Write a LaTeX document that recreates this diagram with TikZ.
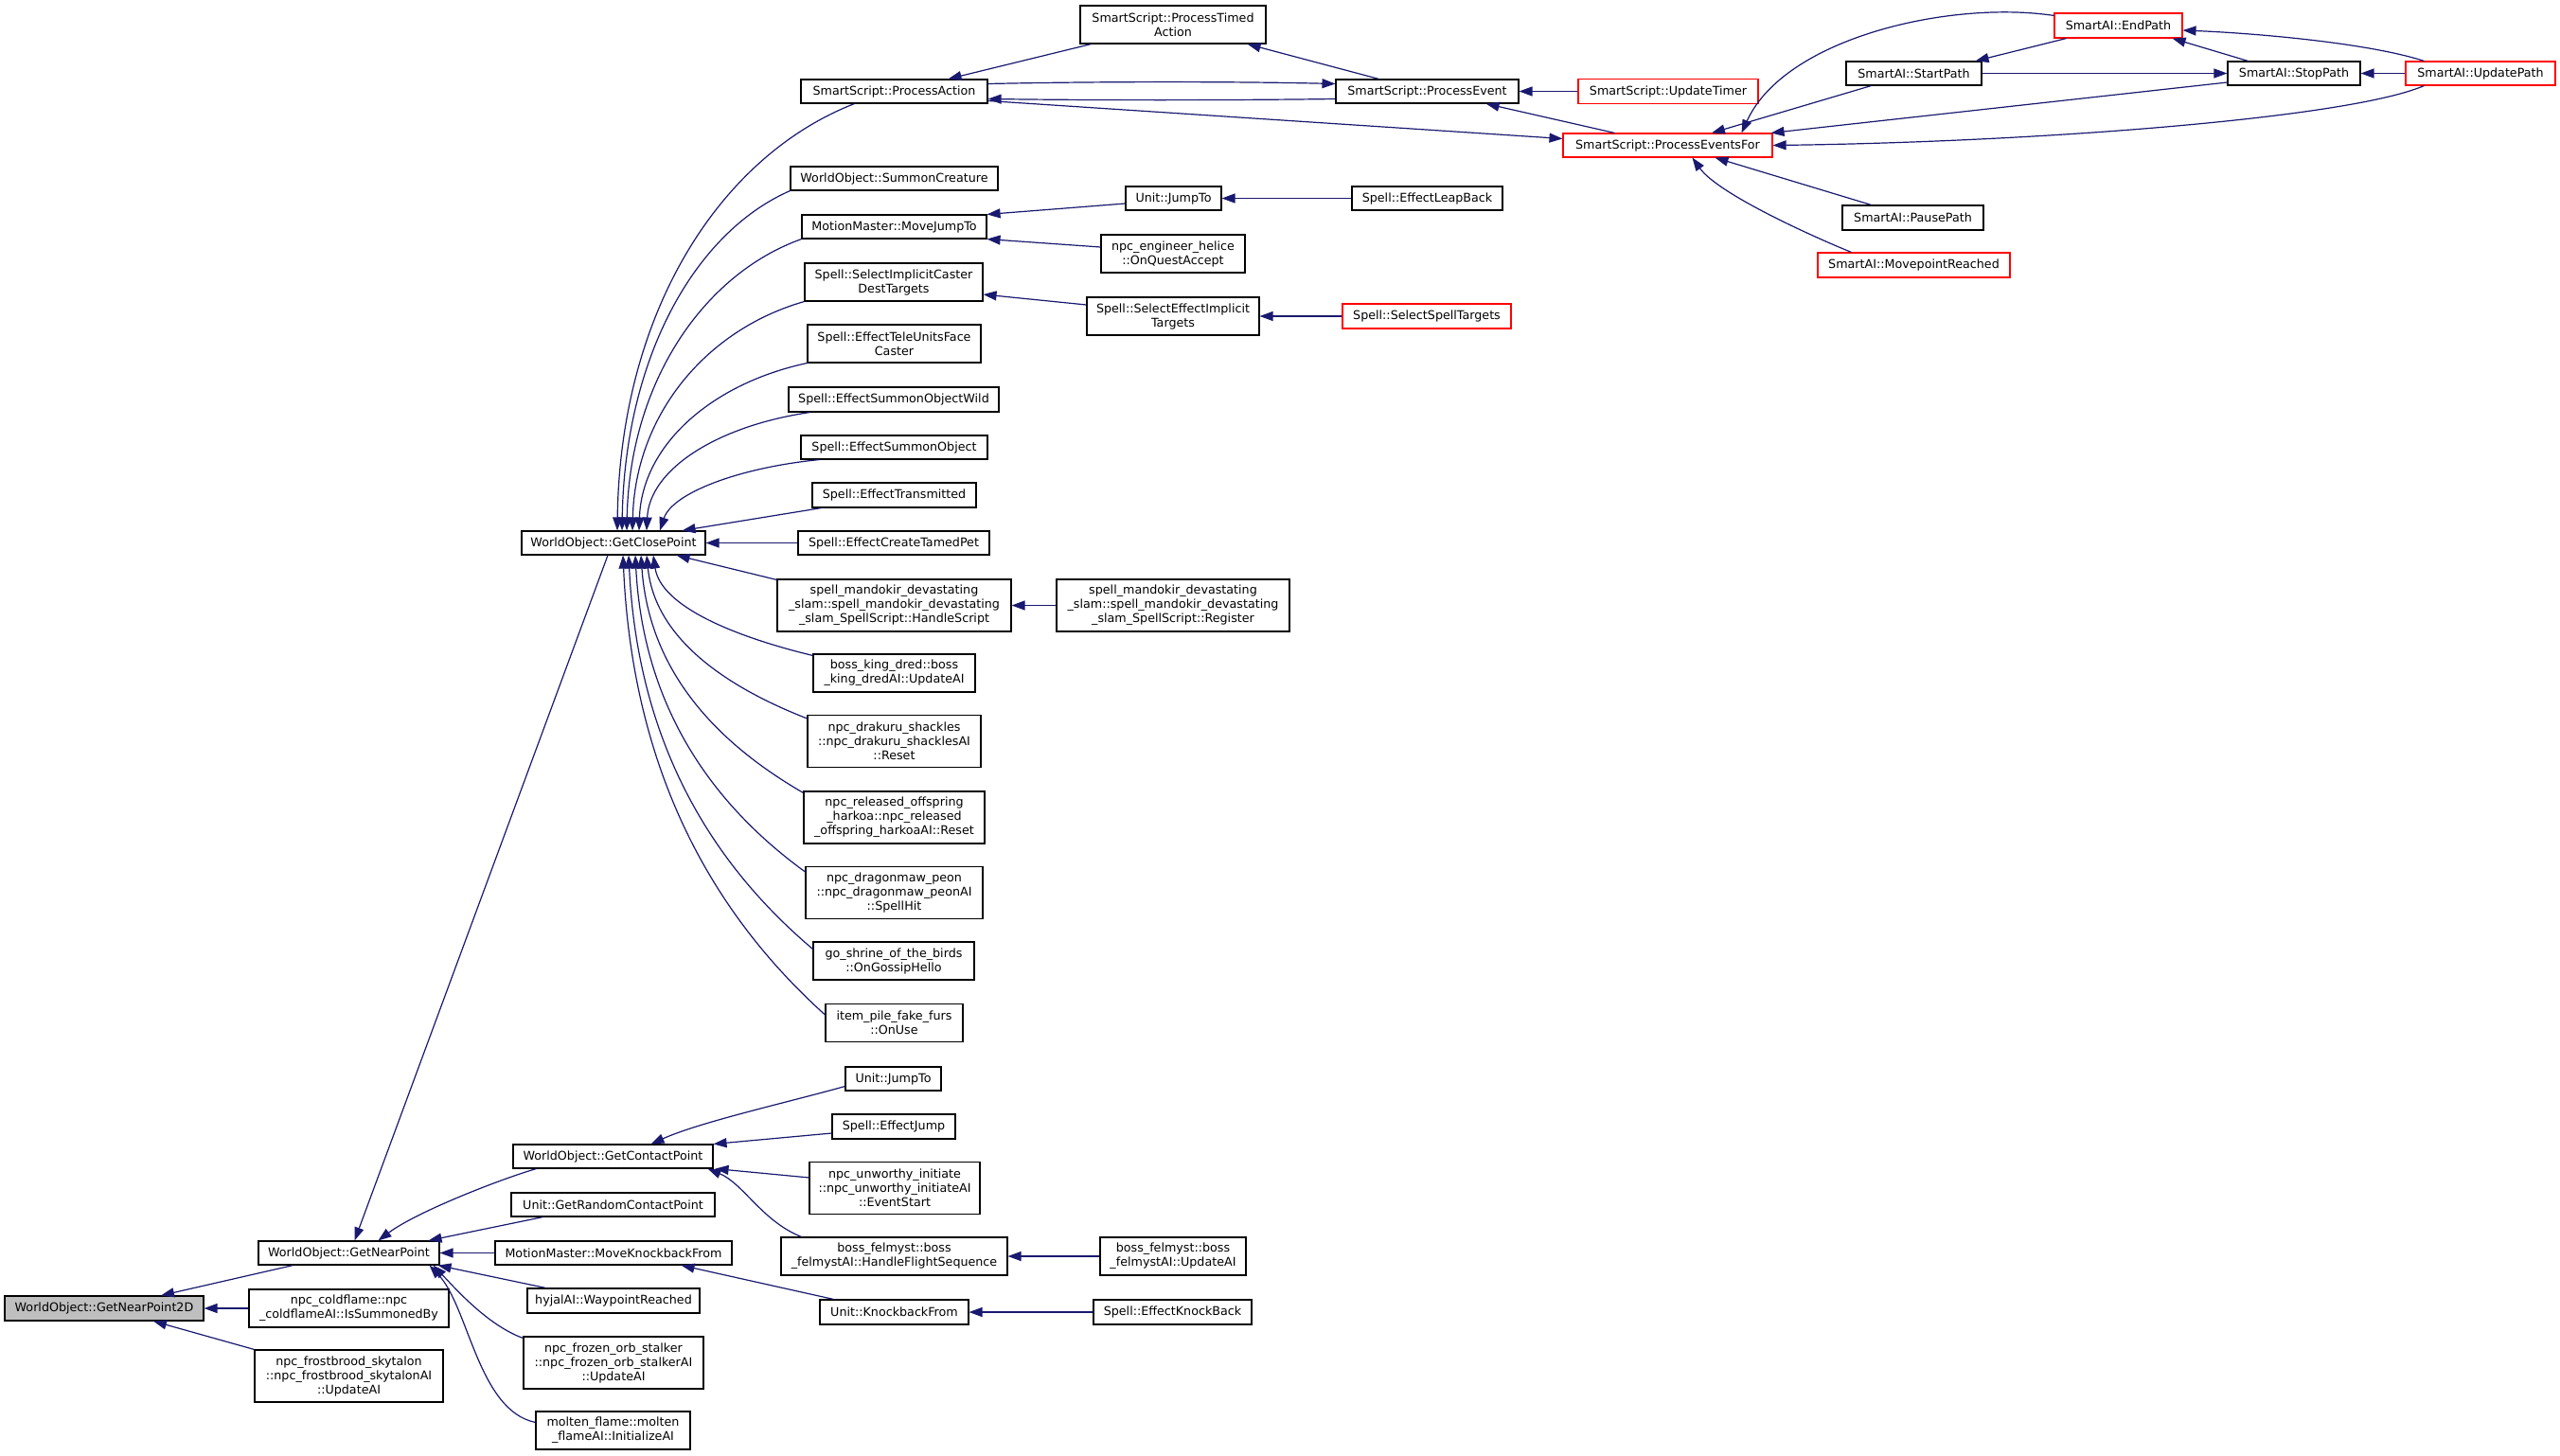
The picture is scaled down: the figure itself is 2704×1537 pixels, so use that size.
\documentclass[tikz,border=0pt]{standalone}
\usepackage{fontspec}
\setmainfont{DejaVu Sans}
\usetikzlibrary{arrows.meta}
\definecolor{edgeblue}{HTML}{191970}
\definecolor{boxgray}{HTML}{BFBFBF}
\begin{document}
\begin{tikzpicture}[x=1pt,y=-1pt,
  fn/.style={draw=black, line width=1.1pt, rectangle, inner sep=0pt, align=center, font=\fontsize{12.7}{15}\selectfont},
  rn/.style={fn, draw=red},
  sz/.style 2 args={minimum width=#1pt, minimum height=#2pt},
  e/.style={draw=edgeblue, line width=1.2pt, -{Triangle[length=14pt,width=10pt]}}]
\fill[white] (0,0) rectangle (2704,1537);
\useasboundingbox (0,0) rectangle (2704,1537);
% column 0-2
\node[fn, fill=boxgray, sz={210}{26}] (n2d) at (110,1382) {WorldObject::GetNearPoint2D};
\node[fn, sz={191}{25}] (ngnp) at (368.5,1323.5) {WorldObject::GetNearPoint};
\node[fn, sz={211}{40}] (ncold) at (368.5,1382) {npc\_coldflame::npc\\\_coldflameAI::IsSummonedBy};
\node[fn, sz={199}{55}] (nfrost) at (368.5,1453.5) {npc\_frostbrood\_skytalon\\::npc\_frostbrood\_skytalonAI\\::UpdateAI};
\node[fn, sz={194}{25}] (nclose) at (648,573.5) {WorldObject::GetClosePoint};
\node[fn, sz={211}{25}] (ncontact) at (647.5,1221.5) {WorldObject::GetContactPoint};
\node[fn, sz={215}{25}] (nrand) at (647.5,1272.5) {Unit::GetRandomContactPoint};
\node[fn, sz={250}{25}] (nmkb) at (648,1323.5) {MotionMaster::MoveKnockbackFrom};
\node[fn, sz={182}{26}] (nhyjal) at (648,1374) {hyjalAI::WaypointReached};
\node[fn, sz={190}{55}] (nfrozen) at (648,1439.5) {npc\_frozen\_orb\_stalker\\::npc\_frozen\_orb\_stalkerAI\\::UpdateAI};
\node[fn, sz={163}{40}] (nmolten) at (647.5,1511) {molten\_flame::molten\\\_flameAI::InitializeAI};
% column 3
\node[fn, sz={197}{25}] (npa) at (944.5,96.5) {SmartScript::ProcessAction};
\node[fn, sz={219}{25}] (nsumm) at (944.5,188.5) {WorldObject::SummonCreature};
\node[fn, sz={195}{25}] (nmjt) at (944.5,239.5) {MotionMaster::MoveJumpTo};
\node[fn, sz={188}{40}] (nsicd) at (944,298) {Spell::SelectImplicitCaster\\DestTargets};
\node[fn, sz={183}{40}] (ntele) at (944.5,363) {Spell::EffectTeleUnitsFace\\Caster};
\node[fn, sz={222}{26}] (nwild) at (944,422) {Spell::EffectSummonObjectWild};
\node[fn, sz={197}{25}] (nsobj) at (944.5,472.5) {Spell::EffectSummonObject};
\node[fn, sz={173}{26}] (ntrans) at (944.5,523) {Spell::EffectTransmitted};
\node[fn, sz={202}{25}] (ntamed) at (944,573.5) {Spell::EffectCreateTamedPet};
\node[fn, sz={247}{55}] (nmandh) at (944.5,639.5) {spell\_mandokir\_devastating\\\_slam::spell\_mandokir\_devastating\\\_slam\_SpellScript::HandleScript};
\node[fn, sz={171}{40}] (ndred) at (944.5,711) {boss\_king\_dred::boss\\\_king\_dredAI::UpdateAI};
\node[fn, sz={183}{55}] (ndrak) at (944.5,783) {npc\_drakuru\_shackles\\::npc\_drakuru\_shacklesAI\\::Reset};
\node[fn, sz={191}{55}] (nrel) at (944.5,863.5) {npc\_released\_offspring\\\_harkoa::npc\_released\\\_offspring\_harkoaAI::Reset};
\node[fn, sz={187}{55}] (ndrag) at (944.5,943) {npc\_dragonmaw\_peon\\::npc\_dragonmaw\_peonAI\\::SpellHit};
\node[fn, sz={170}{40}] (nshrine) at (944,1015) {go\_shrine\_of\_the\_birds\\::OnGossipHello};
\node[fn, sz={145}{40}] (nfurs) at (944.5,1080.5) {item\_pile\_fake\_furs\\::OnUse};
\node[fn, sz={101}{25}] (njump2) at (943.5,1139.5) {Unit::JumpTo};
\node[fn, sz={130}{26}] (neffjump) at (944,1190) {Spell::EffectJump};
\node[fn, sz={180}{55}] (nunw) at (945,1255) {npc\_unworthy\_initiate\\::npc\_unworthy\_initiateAI\\::EventStart};
\node[fn, sz={239}{40}] (nfelh) at (944.5,1327) {boss\_felmyst::boss\\\_felmystAI::HandleFlightSequence};
\node[fn, sz={157}{26}] (nkbf) at (944.5,1386) {Unit::KnockbackFrom};
% column 4
\node[fn, sz={196}{40}] (nta) at (1239,26) {SmartScript::ProcessTimed\\Action};
\node[fn, sz={101}{25}] (njump1) at (1239.5,209.5) {Unit::JumpTo};
\node[fn, sz={152}{40}] (nhelice) at (1239,268) {npc\_engineer\_helice\\::OnQuestAccept};
\node[fn, sz={182}{40}] (nseit) at (1239,334) {Spell::SelectEffectImplicit\\Targets};
\node[fn, sz={246}{55}] (nmandr) at (1239,639.5) {spell\_mandokir\_devastating\\\_slam::spell\_mandokir\_devastating\\\_slam\_SpellScript::Register};
\node[fn, sz={154}{40}] (nfelu) at (1239,1327) {boss\_felmyst::boss\\\_felmystAI::UpdateAI};
\node[fn, sz={167}{26}] (nekb) at (1238.5,1386) {Spell::EffectKnockBack};
% column 5-6
\node[fn, sz={193}{25}] (npe) at (1507.5,96.5) {SmartScript::ProcessEvent};
\node[fn, sz={159}{25}] (nleap) at (1507.5,209.5) {Spell::EffectLeapBack};
\node[rn, sz={178}{26}] (nsst) at (1507,334) {Spell::SelectSpellTargets};
\node[rn, sz={190}{26}] (ntimer) at (1762,96.5) {SmartScript::UpdateTimer};
\node[rn, sz={221}{25}] (npef) at (1761.5,153.5) {SmartScript::ProcessEventsFor};
% SmartAI
\node[rn, sz={135}{26}] (nendp) at (2237.5,27) {SmartAI::EndPath};
\node[fn, sz={143}{25}] (nstart) at (2021.5,77.5) {SmartAI::StartPath};
\node[fn, sz={149}{26}] (npause) at (2020.5,230) {SmartAI::PausePath};
\node[rn, sz={203}{26}] (nmove) at (2021.5,280) {SmartAI::MovepointReached};
\node[fn, sz={140}{25}] (nstop) at (2423,77.5) {SmartAI::StopPath};
\node[rn, sz={158}{25}] (nupd) at (2620,77.5) {SmartAI::UpdatePath};

% edges into GetNearPoint2D
\draw[e] ([xshift=37pt]ngnp.south west) -- ([xshift=60pt]n2d.north);
\draw[e] (ncold.west) -- (n2d.west -| n2d.east);
\draw[e] (nfrost.north west) -- ([xshift=52pt]n2d.south);
% edges into GetNearPoint
\draw[e] ([xshift=-6pt]nclose.south) -- ([xshift=6pt]ngnp.north);
\draw[e] ([xshift=25pt]ncontact.south west) .. controls (530,1245) and (440,1280) .. ([xshift=31pt]ngnp.north);
\draw[e] ([xshift=34pt]nrand.south west) -- ([xshift=-12pt]ngnp.north east);
\draw[e] (nmkb.west) -- (ngnp.east);
\draw[e] ([xshift=20pt]nhyjal.north west) -- ([xshift=-2pt]ngnp.south east);
\draw[e] ([yshift=-2pt]nfrozen.north west) .. controls (515,1400) and (480,1360) .. ([xshift=-7pt]ngnp.south east);
\draw[e] ([yshift=-12pt]nmolten.north west) .. controls (505,1490) and (495,1380) .. ([xshift=-11pt]ngnp.south east);
% edges into GetClosePoint (upper)
\draw[e] ([xshift=57pt]npa.south west) .. controls (760,165) and (655,330) .. ([xshift=4pt]nclose.north);
\draw[e] (nsumm.south west) .. controls (733,246) and (660,379) .. ([xshift=9pt]nclose.north);
\draw[e] (nmjt.south west) .. controls (742,290) and (665,405) .. ([xshift=14pt]nclose.north);
\draw[e] (nsicd.south west) .. controls (746,348) and (671,438) .. ([xshift=20pt]nclose.north);
\draw[e] (ntele.south west) .. controls (752,405) and (678,470) .. ([xshift=27pt]nclose.north);
\draw[e] ([xshift=23pt]nwild.south west) .. controls (757,450) and (686,496) .. ([xshift=35pt]nclose.north);
\draw[e] ([xshift=20pt]nsobj.south west) .. controls (780,494) and (710,521) .. ([xshift=49pt]nclose.north);
\draw[e] ([xshift=10pt]ntrans.south west) -- ([xshift=-25pt]nclose.north east);
\draw[e] (ntamed.west) -- (nclose.east);
% edges into GetClosePoint (lower)
\draw[e] ([yshift=-1pt]nmandh.north west) -- ([xshift=-31pt]nclose.south east);
\draw[e] ([yshift=-2pt]ndred.north west) .. controls (774,672) and (698,640) .. ([xshift=42pt]nclose.south);
\draw[e] ([yshift=-4pt]ndrak.north west) .. controls (768,726) and (692,675) .. ([xshift=35pt]nclose.south);
\draw[e] ([yshift=-2pt]nrel.north west) .. controls (763,788) and (686,714) .. ([xshift=29pt]nclose.south);
\draw[e] ([yshift=-6pt]ndrag.north west) .. controls (761,856) and (680,756) .. ([xshift=23pt]nclose.south);
\draw[e] ([yshift=-8pt]nshrine.north west) .. controls (761,920) and (674,796) .. ([xshift=16pt]nclose.south);
\draw[e] ([yshift=-12pt]nfurs.north west) .. controls (765,976) and (669,831) .. ([xshift=10pt]nclose.south);
% GetContactPoint
\draw[e] ([yshift=-8pt]njump2.west) .. controls (830,1165) and (740,1185) .. ([xshift=40pt]ncontact.north);
\draw[e] ([yshift=-7pt]neffjump.west) -- (ncontact.north east);
\draw[e] ([yshift=-17pt]nunw.north west) -- ([xshift=2pt]ncontact.south east);
\draw[e] ([xshift=22pt]nfelh.north west) .. controls (805,1290) and (785,1250) .. ([xshift=-6pt]ncontact.south east);
\draw[e] (nfelu.west) -- (nfelh.east);
% MoveKnockbackFrom
\draw[e] ([xshift=15pt]nkbf.north west) -- ([xshift=-54pt]nmkb.south east);
\draw[e] (nekb.west) -- (nkbf.east);
% MoveJumpTo
\draw[e] ([yshift=-5.5pt]njump1.west) -- (nmjt.north east);
\draw[e] ([yshift=7pt]nhelice.west) -- (nmjt.south east);
\draw[e] (nleap.west) -- (njump1.east);
% SelectImplicitCasterDestTargets
\draw[e] ([yshift=12pt]nseit.west) -- ([yshift=-13pt]nsicd.east);
\draw[e] (nsst.west) -- (nseit.east);
% mandokir
\draw[e] (nmandr.west) -- (nmandh.east);
% SmartScript cluster
\draw[e] ([xshift=12pt]nta.south west) -- ([xshift=-42pt]npa.north east);
\draw[e] ([yshift=8pt]npa.east) .. controls (1160,86) and (1300,86) .. ([yshift=8pt]npe.west);
\draw[e] ([yshift=-8pt]npe.west) .. controls (1300,106) and (1160,106) .. ([yshift=-8pt]npa.east);
\draw[e] ([yshift=-10pt]npa.east) -- ([yshift=7pt]npef.west);
\draw[e] ([xshift=46pt]npe.north west) -- ([xshift=-20pt]nta.south east);
\draw[e] (ntimer.west) -- (npe.east);
\draw[e] ([xshift=55pt]npef.north west) -- ([xshift=-35pt]npe.south east);
% SmartAI
\draw[e] ([xshift=27pt]nstart.south west) -- ([xshift=46.5pt]npef.north);
\draw[e] ([yshift=-3pt]nendp.north west) .. controls (2060,0) and (1885,40) .. ([xshift=78pt]npef.north);
\draw[e] ([yshift=-9.5pt]nstop.west) -- ([xshift=-2pt]npef.north east);
\draw[e] ([xshift=20pt]nupd.south west) .. controls (2480,125) and (2150,150) .. (npef.east);
\draw[e] ([xshift=31pt]npause.north west) -- ([xshift=50pt]npef.south);
\draw[e] ([xshift=36pt]nmove.north west) .. controls (1915,250) and (1815,205) .. ([xshift=26pt]npef.south);
\draw[e] ([xshift=13pt]nendp.south west) -- ([xshift=-7pt]nstart.north east);
\draw[e] ([xshift=22pt]nstop.north west) -- ([xshift=-11pt]nendp.south east);
\draw[e] ([xshift=20pt]nupd.north west) .. controls (2500,45) and (2380,35) .. ([yshift=-5pt]nendp.east);
\draw[e] (nstart.east) -- (nstop.west);
\draw[e] (nupd.west) -- (nstop.east);
\end{tikzpicture}
\end{document}
